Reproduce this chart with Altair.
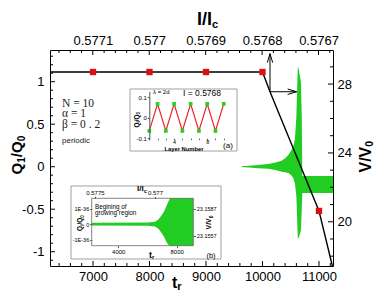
import altair as alt
import pandas as pd

W, H = 283, 216

# ---------------- main panel data ----------------
t_curve = [6239, 10000, 10133, 11000, 11237]
q_curve = [1.114, 1.114, 0.882, -0.52, -1.168]

t_marks = [7000, 8000, 9000, 10000, 11000]
q_marks = [1.114, 1.114, 1.114, 1.114, -0.52]

t_env = [9632, 9760, 9867, 10000, 10103, 10230, 10340, 10400, 10457, 10510, 10545,
         10575, 10600, 10625, 10640, 10680, 10695, 10705, 11248]
q_env_top = [0.004, 0.01, 0.018, 0.025, 0.032, 0.05, 0.071, 0.1, 0.138, 0.19, 0.235,
             0.33, 0.6, 1.18, 1.15, 1.0, 0.6, -0.11, -0.11]
q_env_bot = [-0.004, -0.01, -0.015, -0.02, -0.024, -0.04, -0.059, -0.065, -0.074, -0.1, -0.133,
             -0.2, -0.35, -0.84, -0.84, -0.75, -0.5, -0.31, -0.31]

arrow_t0, arrow_q0 = 10133, 0.882
arrow_t_tip, arrow_q_tip = 10605, 1.33

t_domain = [6239, 11248]
q_domain = [-1.168, 1.373]
v_domain = [17.43, 29.98]
i_domain = [0.5771759, 0.5766743]
t_ticks = [7000, 8000, 9000, 10000, 11000]
q_ticks = [-1, -0.5, 0, 0.5, 1]
v_ticks = [20, 24, 28]
i_ticks = [0.5771, 0.577, 0.5769, 0.5768, 0.5767]

t_minor = [t for t in range(6400, 11248, 200) if t % 1000]
q_minor = [round(v / 10, 1) for v in range(-11, 14) if v % 5]
v_minor = [v for v in range(18, 30) if v % 4]
i_minor = [round(0.5767 + k * 0.00002, 5) for k in range(-1, 25) if k % 5]
i_minor = [v for v in i_minor if i_domain[1] <= v <= i_domain[0]]

# ---------------- inset (a) ----------------
layer_num = [1, 2, 3, 4, 5, 6, 7, 8, 9, 10]
q_layer = [-0.065, 0.068, -0.065, 0.068, -0.065, 0.068, -0.065, 0.068, -0.065, 0.068]
a_x_ticks = [1, 2, 3, 4, 5, 6, 7, 8, 9, 10]
a_y_ticks = [-0.1, 0, 0.1]

# ---------------- inset (b) ----------------
tb_env = [2180, 6055, 6514, 6750, 6973, 7150, 7315, 7450, 7541, 9140]
qb_top = [0.085, 0.1, 0.16, 0.3, 0.58, 0.85, 1.2, 1.5, 1.675, 1.675]
qb_bot = [-0.085, -0.1, -0.16, -0.3, -0.58, -0.85, -1.2, -1.35, -1.40, -1.40]
tb_ticks = [4000, 8000]
qb_ticks = [-1, 0, 1]
ib_ticks = [0.5775, 0.577]
vb_ticks = [23.1587, 23.1557]

GREEN = "#22cc22"
RED = "#dd1010"
FONT = "Liberation Sans"
one = pd.DataFrame({"d": [0]})


def sc(domain, rng=None):
    if rng is None:
        return alt.Scale(domain=domain, nice=False, zero=False)
    return alt.Scale(domain=domain, range=rng, nice=False, zero=False)


def MX(f, axis=None):
    return alt.X(f, type="quantitative", scale=sc(t_domain), axis=axis)


def MY(f, axis=None):
    return alt.Y(f, type="quantitative", scale=sc(q_domain), axis=axis)


def small_axis(orient, offset, values, fs=6, tick=2, pad=1, **kw):
    return alt.Axis(orient=orient, offset=offset, values=values, tickSize=tick, tickColor="#555",
                    domain=False, labelFontSize=fs, labelPadding=pad, title=None,
                    labelFlush=False, labelOverlap=False, zindex=2, **kw)


layers = []

# green oscillation
df_env = pd.DataFrame({"t": t_env, "top": q_env_top, "bot": q_env_bot})
layers.append(alt.Chart(df_env).mark_area(color=GREEN, opacity=1).encode(
    x=MX("t"), y=MY("top"), y2="bot"))

# black curve with bottom / left labels
df_curve = pd.DataFrame({"t": t_curve, "q": q_curve})
layers.append(alt.Chart(df_curve).mark_line(color="black", strokeWidth=1.4).encode(
    x=MX("t", alt.Axis(orient="bottom", values=t_ticks, format="d", ticks=False, domain=False,
                       labelPadding=4, labelFontSize=13, title=None, labelFlush=False,
                       labelOverlap=False)),
    y=MY("q", alt.Axis(orient="left", values=q_ticks, labelExpr="'' + datum.value", ticks=False,
                       domain=False, labelPadding=6, labelFontSize=13, title=None,
                       labelOverlap=False))))

# red squares
df_marks = pd.DataFrame({"t": t_marks, "q": q_marks})
layers.append(alt.Chart(df_marks).mark_square(size=40, color=RED, opacity=1).encode(
    x=MX("t"), y=MY("q")))

# arrows
df_arr = pd.DataFrame({"t0": [arrow_t0], "q0": [arrow_q0], "tt": [arrow_t_tip], "qt": [arrow_q_tip]})
layers.append(alt.Chart(df_arr).mark_rule(color="black", strokeWidth=1).encode(
    x=MX("t0"), y=MY("q0"), y2="qt"))
layers.append(alt.Chart(df_arr).mark_rule(color="black", strokeWidth=1).encode(
    x=MX("t0"), x2="tt", y=MY("q0")))
layers.append(alt.Chart(df_arr).mark_point(shape="M-0.6,2L0,0L0.6,2", size=81, filled=False,
                                           stroke="black", strokeWidth=1, opacity=1).encode(
    x=MX("t0"), y=MY("qt")))
layers.append(alt.Chart(df_arr).mark_point(shape="M-2,-0.6L0,0L-2,0.6", size=81, filled=False,
                                           stroke="black", strokeWidth=1, opacity=1).encode(
    x=MX("tt"), y=MY("q0")))

# inward ticks of the main frame
for vals, ln in ((t_ticks, 5), (t_minor, 3)):
    d = pd.DataFrame({"v": vals})
    layers.append(alt.Chart(d).mark_rule(color="black", strokeWidth=1).encode(
        x=MX("v"), y=alt.value(H), y2=alt.value(H - ln)))
for vals, ln in ((q_ticks, 5), (q_minor, 3)):
    d = pd.DataFrame({"v": vals})
    layers.append(alt.Chart(d).mark_rule(color="black", strokeWidth=1).encode(
        y=MY("v"), x=alt.value(0), x2=alt.value(ln)))
for vals, ln, ax in ((i_ticks, 5, alt.Axis(orient="top", values=i_ticks, labelExpr="'' + datum.value",
                                          ticks=False, domain=False, labelPadding=3, labelFontSize=13,
                                          title=None, labelFlush=False, labelOverlap=False)),
                     (i_minor, 3, None)):
    d = pd.DataFrame({"v": vals})
    layers.append(alt.Chart(d).mark_rule(color="black", strokeWidth=1).encode(
        x=alt.X("v", type="quantitative", scale=sc(i_domain), axis=ax),
        y=alt.value(0), y2=alt.value(ln)))
for vals, ln, ax in ((v_ticks, 5, alt.Axis(orient="right", values=v_ticks, format="d", ticks=False,
                                          domain=False, labelPadding=4, labelFontSize=13, title=None,
                                          labelOverlap=False)),
                     (v_minor, 3, None)):
    d = pd.DataFrame({"v": vals})
    layers.append(alt.Chart(d).mark_rule(color="black", strokeWidth=1).encode(
        y=alt.Y("v", type="quantitative", scale=sc(v_domain), axis=ax),
        x=alt.value(W), x2=alt.value(W - ln)))


def box(x0, y0, x1, y1, fill="white", stroke="#a0a0a0", sw=1):
    return alt.Chart(one).mark_rect(fill=fill, stroke=stroke, strokeWidth=sw,
                                    fillOpacity=1 if fill != "transparent" else 0).encode(
        x=alt.value(x0), x2=alt.value(x1), y=alt.value(y0), y2=alt.value(y1))


def txt(s, x, y, fs, bold=False, align="left", baseline="alphabetic", angle=0, font=FONT,
        color="black"):
    return alt.Chart(one).mark_text(text=s, fontSize=fs, fontWeight="bold" if bold else "normal",
                                    font=font, align=align, baseline=baseline, angle=angle,
                                    color=color).encode(x=alt.value(x), y=alt.value(y))


BW = {"Q": .778, "V": .667, "I": .278, "/": .278, "0": .556, "1": .556, "i": .278,
      "c": .556, "r": .389, "t": .333}


def wid(s, fs):
    return sum(BW[c] for c in s) * fs


def hpieces(parts, x, y, fs, sfs, dsub):
    out = []
    for s, sub in parts:
        f = sfs if sub else fs
        out.append(txt(s, x, y + (dsub if sub else 0), f, bold=True))
        x += wid(s, f)
    return out


def vpieces(parts, x, y, fs, sfs, dsub):
    out = []
    for s, sub in parts:
        f = sfs if sub else fs
        out.append(txt(s, x + (dsub if sub else 0), y, f, bold=True, angle=270))
        y -= wid(s, f)
    return out


# ---- inset (a) ----
layers.append(box(80, 39, 187, 101))
xa = sc([1, 10.3], [99.3, 176.2])
ya = sc([-0.108, 0.1295], [89.7, 41.3])
df_a = pd.DataFrame({"n": layer_num, "q": q_layer})
layers.append(alt.Chart(df_a).mark_line(color="#e82828", strokeWidth=1.2).encode(
    x=alt.X("n", type="quantitative", scale=xa,
            axis=small_axis("bottom", -127.8, a_x_ticks, fs=5.5, tick=1.5, pad=0,
                            labelExpr="datum.value == 4 || datum.value == 8 ? '' + datum.value : ''")),
    y=alt.Y("q", type="quantitative", scale=ya,
            axis=alt.Axis(orient="left", offset=-99.3, values=a_y_ticks, labelExpr="'' + datum.value",
                          tickSize=2, tickColor="#555", domain=True, domainColor="#555",
                          labelFontSize=6, labelPadding=1, title=None, labelOverlap=False,
                          zindex=2))))
layers.append(alt.Chart(df_a).mark_square(size=14, color="#2ad02a", opacity=1).encode(
    x=alt.X("n", type="quantitative", scale=xa, axis=None),
    y=alt.Y("q", type="quantitative", scale=ya, axis=None)))
layers.append(txt("λ = 2d", 103, 44, 6))
layers.append(txt("I = 0.5768", 133, 46, 8.5))
layers.append(txt("Layer Number", 134, 100.6, 5.8, bold=True, align="center"))
layers.append(txt("(a)", 178, 98, 8, align="center"))
layers += vpieces([("Q", False), ("i", True), ("/Q", False), ("0", True)], 88.5, 77.6, 6.5, 4.5, 1.5)

# ---- inset (b) ----
layers.append(box(21, 136, 171, 209))
xb = sc([2180, 9140], [41.7, 143.3])
yb = sc([-1.40, 1.675], [195.7, 148.3])
df_b = pd.DataFrame({"t": tb_env, "top": qb_top, "bot": qb_bot})
layers.append(alt.Chart(df_b).mark_area(color=GREEN, opacity=1).encode(
    x=alt.X("t", type="quantitative", scale=xb,
            axis=small_axis("bottom", -20.3, tb_ticks, format="d")),
    y=alt.Y("top", type="quantitative", scale=yb,
            axis=small_axis("left", -41.7, qb_ticks, fs=5.5,
                            labelExpr="datum.value == 0 ? '0' : (datum.value > 0 ? '1E-36' : '-1E-36')")),
    y2="bot"))
layers.append(box(41.7, 148.3, 143.3, 195.7, fill="transparent", stroke="#666", sw=0.8))
df_ib = pd.DataFrame({"v": ib_ticks})
layers.append(alt.Chart(df_ib).mark_point(opacity=0).encode(
    x=alt.X("v", type="quantitative", scale=sc([0.577527, 0.576681], [41.7, 143.3]),
            axis=small_axis("top", -148.3, ib_ticks, labelExpr="'' + datum.value")),
    y=alt.value(170)))
df_vb = pd.DataFrame({"v": vb_ticks})
layers.append(alt.Chart(df_vb).mark_point(opacity=0).encode(
    y=alt.Y("v", type="quantitative", scale=sc([23.15458, 23.1599], [195.7, 148.3]),
            axis=small_axis("right", -139.7, vb_ticks, fs=5.5, format=".4f")),
    x=alt.value(100)))
layers.append(txt("Begining of", 45, 159, 6.3))
layers.append(txt("growing region", 45, 165, 6.3))
layers.append(txt("(b)", 161, 207.5, 7.5, align="center"))
layers += hpieces([("I/I", False), ("c", True)], 87, 140.5, 8, 5.5, 2)
layers += hpieces([("t", False), ("r", True)], 99, 207.5, 9, 6, 1.5)
layers += vpieces([("Q", False), ("i", True), ("/Q", False), ("0", True)], 32, 180.9, 6.5, 4.5, 1.5)
layers += vpieces([("V/V", False), ("0", True)], 161, 179.5, 7, 5, 1.5)

# ---- main annotations and titles ----
layers.append(txt("N = 10", 12, 56.5, 11.5, font="Liberation Serif", color="#222"))
layers.append(txt("α = 1", 12, 67, 11.5, font="Liberation Serif", color="#222"))
layers.append(txt("β = 0 . 2", 12, 77.5, 11.5, font="Liberation Serif", color="#222"))
layers.append(txt("periodic", 12, 93, 8, color="#222"))
layers += hpieces([("I/I", False), ("c", True)], 147, -25, 18, 11, 3)
layers += hpieces([("t", False), ("r", True)], 122, 237.5, 16, 11, 2)
layers += vpieces([("Q", False), ("1", True), ("/Q", False), ("0", True)], -28.5, 124.4, 15, 10, 3)
layers += vpieces([("V/V", False), ("0", True)], 321, 122.5, 16, 10.5, 2)

chart = alt.layer(*layers).resolve_scale(x="independent", y="independent").resolve_axis(
    x="independent", y="independent").properties(
    width=W, height=H,
    padding={"left": 42, "top": 42, "right": 43, "bottom": 26},
    autosize=alt.AutoSizeParams(type="none"),
).configure_view(stroke="black", strokeWidth=1).configure_axis(
    labelFont=FONT, labelColor="black", grid=False)

chart.save("out.html", embed_options={"renderer": "svg", "actions": False})
